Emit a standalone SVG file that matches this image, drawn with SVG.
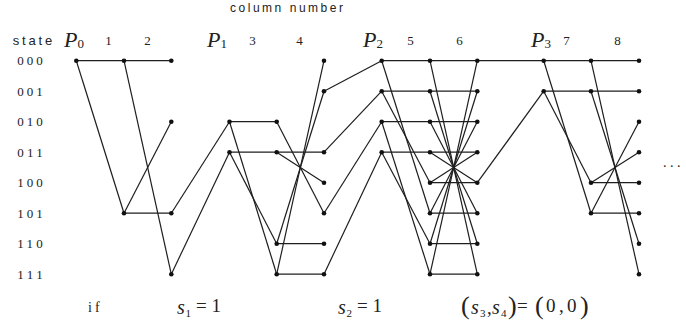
<svg xmlns="http://www.w3.org/2000/svg" width="686" height="327" viewBox="0 0 686 327">
<style>
.e{stroke:#1e1e1e;stroke-width:1.2;fill:none}
.d{fill:#111}
.sans{font-family:"Liberation Sans",Arial,sans-serif;fill:#222}
.ser{font-family:"Liberation Serif","Times New Roman",serif;fill:#222}
.it{font-family:"Liberation Serif","Times New Roman",serif;font-style:italic;fill:#222}
.row{font-size:13px}
.col{font-size:13px;text-anchor:middle}
</style>
<rect width="686" height="327" fill="#fff"/>
<text class="sans" x="230" y="12" font-size="12" textLength="113" lengthAdjust="spacing">column number</text>
<text class="sans" x="12.7" y="45" font-size="13" textLength="39.6" lengthAdjust="spacing">state</text>
<text class="it" x="64" y="47" font-size="22">P<tspan class="ser" font-style="normal" font-size="13" dy="1">0</tspan></text>
<text class="it" x="207" y="47" font-size="22">P<tspan class="ser" font-style="normal" font-size="13" dy="1">1</tspan></text>
<text class="it" x="363" y="47" font-size="22">P<tspan class="ser" font-style="normal" font-size="13" dy="1">2</tspan></text>
<text class="it" x="531" y="47" font-size="22">P<tspan class="ser" font-style="normal" font-size="13" dy="1">3</tspan></text>
<g class="ser col">
<text x="108.5" y="45">1</text><text x="147.5" y="45">2</text>
<text x="252.5" y="45">3</text><text x="299.5" y="45">4</text>
<text x="410.5" y="45">5</text><text x="459.5" y="45">6</text>
<text x="566.5" y="45">7</text><text x="617.5" y="45">8</text>
</g>
<g class="ser row">
<text x="17.3" y="65" textLength="25.5" lengthAdjust="spacing">000</text>
<text x="17.3" y="95.5" textLength="25.5" lengthAdjust="spacing">001</text>
<text x="17.3" y="126" textLength="25.5" lengthAdjust="spacing">010</text>
<text x="17.3" y="156.5" textLength="25.5" lengthAdjust="spacing">011</text>
<text x="17.3" y="187" textLength="25.5" lengthAdjust="spacing">100</text>
<text x="17.3" y="217.5" textLength="25.5" lengthAdjust="spacing">101</text>
<text x="17.3" y="248" textLength="25.5" lengthAdjust="spacing">110</text>
<text x="17.3" y="278.5" textLength="25.5" lengthAdjust="spacing">111</text>
</g>
<g id="connectors">
<line class="e" x1="76.3" y1="60.7" x2="124" y2="60.7"/>
<line class="e" x1="76.3" y1="60.7" x2="124" y2="213.2"/>
<line class="e" x1="124" y1="60.7" x2="171.3" y2="60.7"/>
<line class="e" x1="124" y1="60.7" x2="171.3" y2="274.2"/>
<line class="e" x1="124" y1="213.2" x2="171.3" y2="121.7"/>
<line class="e" x1="124" y1="213.2" x2="171.3" y2="213.2"/>
<line class="e" x1="171.3" y1="213.2" x2="229.5" y2="121.7"/>
<line class="e" x1="171.3" y1="274.2" x2="229.5" y2="152.2"/>
<line class="e" x1="229.5" y1="121.7" x2="276.7" y2="121.7"/>
<line class="e" x1="229.5" y1="152.2" x2="276.7" y2="152.2"/>
<line class="e" x1="229.5" y1="121.7" x2="276.7" y2="274.2"/>
<line class="e" x1="229.5" y1="152.2" x2="276.7" y2="243.7"/>
<line class="e" x1="276.7" y1="152.2" x2="324" y2="152.2"/>
<line class="e" x1="276.7" y1="152.2" x2="324" y2="182.7"/>
<line class="e" x1="276.7" y1="121.7" x2="324" y2="213.2"/>
<line class="e" x1="276.7" y1="243.7" x2="324" y2="243.7"/>
<line class="e" x1="276.7" y1="243.7" x2="324" y2="91.2"/>
<line class="e" x1="276.7" y1="274.2" x2="324" y2="274.2"/>
<line class="e" x1="276.7" y1="274.2" x2="324" y2="60.7"/>
<line class="e" x1="324" y1="91.2" x2="381.7" y2="60.7"/>
<line class="e" x1="324" y1="152.2" x2="381.7" y2="91.2"/>
<line class="e" x1="324" y1="213.2" x2="381.7" y2="121.7"/>
<line class="e" x1="324" y1="274.2" x2="381.7" y2="152.2"/>
<line class="e" x1="381.7" y1="60.7" x2="430" y2="60.7"/>
<line class="e" x1="381.7" y1="91.2" x2="430" y2="91.2"/>
<line class="e" x1="381.7" y1="121.7" x2="430" y2="121.7"/>
<line class="e" x1="381.7" y1="152.2" x2="430" y2="152.2"/>
<line class="e" x1="381.7" y1="60.7" x2="430" y2="213.2"/>
<line class="e" x1="381.7" y1="91.2" x2="430" y2="182.7"/>
<line class="e" x1="381.7" y1="121.7" x2="430" y2="274.2"/>
<line class="e" x1="381.7" y1="152.2" x2="430" y2="243.7"/>
<line class="e" x1="430" y1="60.7" x2="477.3" y2="60.7"/>
<line class="e" x1="430" y1="91.2" x2="477.3" y2="91.2"/>
<line class="e" x1="430" y1="121.7" x2="477.3" y2="121.7"/>
<line class="e" x1="430" y1="152.2" x2="477.3" y2="152.2"/>
<line class="e" x1="430" y1="182.7" x2="477.3" y2="182.7"/>
<line class="e" x1="430" y1="213.2" x2="477.3" y2="213.2"/>
<line class="e" x1="430" y1="243.7" x2="477.3" y2="243.7"/>
<line class="e" x1="430" y1="274.2" x2="477.3" y2="274.2"/>
<line class="e" x1="430" y1="60.7" x2="477.3" y2="274.2"/>
<line class="e" x1="430" y1="91.2" x2="477.3" y2="243.7"/>
<line class="e" x1="430" y1="121.7" x2="477.3" y2="213.2"/>
<line class="e" x1="430" y1="152.2" x2="477.3" y2="182.7"/>
<line class="e" x1="430" y1="182.7" x2="477.3" y2="152.2"/>
<line class="e" x1="430" y1="213.2" x2="477.3" y2="121.7"/>
<line class="e" x1="430" y1="243.7" x2="477.3" y2="91.2"/>
<line class="e" x1="430" y1="274.2" x2="477.3" y2="60.7"/>
<line class="e" x1="477.3" y1="60.7" x2="543.7" y2="60.7"/>
<line class="e" x1="477.3" y1="182.7" x2="543.7" y2="91.2"/>
<line class="e" x1="543.7" y1="60.7" x2="591" y2="60.7"/>
<line class="e" x1="543.7" y1="91.2" x2="591" y2="91.2"/>
<line class="e" x1="543.7" y1="60.7" x2="591" y2="213.2"/>
<line class="e" x1="543.7" y1="91.2" x2="591" y2="182.7"/>
<line class="e" x1="591" y1="60.7" x2="639" y2="60.7"/>
<line class="e" x1="591" y1="91.2" x2="639" y2="91.2"/>
<line class="e" x1="591" y1="182.7" x2="639" y2="182.7"/>
<line class="e" x1="591" y1="213.2" x2="639" y2="213.2"/>
<line class="e" x1="591" y1="60.7" x2="639" y2="274.2"/>
<line class="e" x1="591" y1="91.2" x2="639" y2="243.7"/>
<line class="e" x1="591" y1="182.7" x2="639" y2="152.2"/>
<line class="e" x1="591" y1="213.2" x2="639" y2="121.7"/>
</g>
<g id="n0-000"><circle class="d" cx="76.3" cy="60.7" r="2.3"/></g>
<g id="n1-000"><circle class="d" cx="124" cy="60.7" r="2.3"/></g>
<g id="n1-101"><circle class="d" cx="124" cy="213.2" r="2.3"/></g>
<g id="n2-000"><circle class="d" cx="171.3" cy="60.7" r="2.3"/></g>
<g id="n2-010"><circle class="d" cx="171.3" cy="121.7" r="2.3"/></g>
<g id="n2-101"><circle class="d" cx="171.3" cy="213.2" r="2.3"/></g>
<g id="n2-111"><circle class="d" cx="171.3" cy="274.2" r="2.3"/></g>
<g id="n3-010"><circle class="d" cx="229.5" cy="121.7" r="2.3"/></g>
<g id="n3-011"><circle class="d" cx="229.5" cy="152.2" r="2.3"/></g>
<g id="n4-010"><circle class="d" cx="276.7" cy="121.7" r="2.3"/></g>
<g id="n4-011"><circle class="d" cx="276.7" cy="152.2" r="2.3"/></g>
<g id="n4-110"><circle class="d" cx="276.7" cy="243.7" r="2.3"/></g>
<g id="n4-111"><circle class="d" cx="276.7" cy="274.2" r="2.3"/></g>
<g id="n5-000"><circle class="d" cx="324" cy="60.7" r="2.3"/></g>
<g id="n5-001"><circle class="d" cx="324" cy="91.2" r="2.3"/></g>
<g id="n5-011"><circle class="d" cx="324" cy="152.2" r="2.3"/></g>
<g id="n5-100"><circle class="d" cx="324" cy="182.7" r="2.3"/></g>
<g id="n5-101"><circle class="d" cx="324" cy="213.2" r="2.3"/></g>
<g id="n5-110"><circle class="d" cx="324" cy="243.7" r="2.3"/></g>
<g id="n5-111"><circle class="d" cx="324" cy="274.2" r="2.3"/></g>
<g id="n6-000"><circle class="d" cx="381.7" cy="60.7" r="2.3"/></g>
<g id="n6-001"><circle class="d" cx="381.7" cy="91.2" r="2.3"/></g>
<g id="n6-010"><circle class="d" cx="381.7" cy="121.7" r="2.3"/></g>
<g id="n6-011"><circle class="d" cx="381.7" cy="152.2" r="2.3"/></g>
<g id="n7-000"><circle class="d" cx="430" cy="60.7" r="2.3"/></g>
<g id="n7-001"><circle class="d" cx="430" cy="91.2" r="2.3"/></g>
<g id="n7-010"><circle class="d" cx="430" cy="121.7" r="2.3"/></g>
<g id="n7-011"><circle class="d" cx="430" cy="152.2" r="2.3"/></g>
<g id="n7-100"><circle class="d" cx="430" cy="182.7" r="2.3"/></g>
<g id="n7-101"><circle class="d" cx="430" cy="213.2" r="2.3"/></g>
<g id="n7-110"><circle class="d" cx="430" cy="243.7" r="2.3"/></g>
<g id="n7-111"><circle class="d" cx="430" cy="274.2" r="2.3"/></g>
<g id="n8-000"><circle class="d" cx="477.3" cy="60.7" r="2.3"/></g>
<g id="n8-001"><circle class="d" cx="477.3" cy="91.2" r="2.3"/></g>
<g id="n8-010"><circle class="d" cx="477.3" cy="121.7" r="2.3"/></g>
<g id="n8-011"><circle class="d" cx="477.3" cy="152.2" r="2.3"/></g>
<g id="n8-100"><circle class="d" cx="477.3" cy="182.7" r="2.3"/></g>
<g id="n8-101"><circle class="d" cx="477.3" cy="213.2" r="2.3"/></g>
<g id="n8-110"><circle class="d" cx="477.3" cy="243.7" r="2.3"/></g>
<g id="n8-111"><circle class="d" cx="477.3" cy="274.2" r="2.3"/></g>
<g id="n9-000"><circle class="d" cx="543.7" cy="60.7" r="2.3"/></g>
<g id="n9-001"><circle class="d" cx="543.7" cy="91.2" r="2.3"/></g>
<g id="n10-000"><circle class="d" cx="591" cy="60.7" r="2.3"/></g>
<g id="n10-001"><circle class="d" cx="591" cy="91.2" r="2.3"/></g>
<g id="n10-100"><circle class="d" cx="591" cy="182.7" r="2.3"/></g>
<g id="n10-101"><circle class="d" cx="591" cy="213.2" r="2.3"/></g>
<g id="n11-000"><circle class="d" cx="639" cy="60.7" r="2.3"/></g>
<g id="n11-001"><circle class="d" cx="639" cy="91.2" r="2.3"/></g>
<g id="n11-010"><circle class="d" cx="639" cy="121.7" r="2.3"/></g>
<g id="n11-011"><circle class="d" cx="639" cy="152.2" r="2.3"/></g>
<g id="n11-100"><circle class="d" cx="639" cy="182.7" r="2.3"/></g>
<g id="n11-101"><circle class="d" cx="639" cy="213.2" r="2.3"/></g>
<g id="n11-110"><circle class="d" cx="639" cy="243.7" r="2.3"/></g>
<g id="n11-111"><circle class="d" cx="639" cy="274.2" r="2.3"/></g>
<text class="ser" x="663" y="167" font-size="14" letter-spacing="3.5">...</text>
<text class="ser" x="88" y="312" font-size="14" letter-spacing="3">if</text>
<text class="it" x="177" y="314" font-size="20">s</text>
<text class="ser" x="185.5" y="317" font-size="11">1</text>
<text class="ser" x="196" y="312" font-size="19">= 1</text>
<text class="it" x="338" y="314" font-size="20">s</text>
<text class="ser" x="346.5" y="317" font-size="11">2</text>
<text class="ser" x="357" y="312" font-size="19">= 1</text>
<text class="ser" x="461" y="314" font-size="26">(</text>
<text class="it" x="471" y="314" font-size="20">s</text>
<text class="ser" x="480" y="317" font-size="11">3</text>
<text class="ser" x="487" y="314" font-size="19">,</text>
<text class="it" x="492" y="314" font-size="20">s</text>
<text class="ser" x="501" y="317" font-size="11">4</text>
<text class="ser" x="508" y="314" font-size="26">)</text>
<text class="ser" x="517" y="312" font-size="19">=</text>
<text class="ser" x="535" y="314" font-size="26">(</text>
<text class="ser" x="546" y="312" font-size="19">0</text>
<text class="ser" x="559" y="312" font-size="19">,</text>
<text class="ser" x="567" y="312" font-size="19">0</text>
<text class="ser" x="580" y="314" font-size="26">)</text>
</svg>
